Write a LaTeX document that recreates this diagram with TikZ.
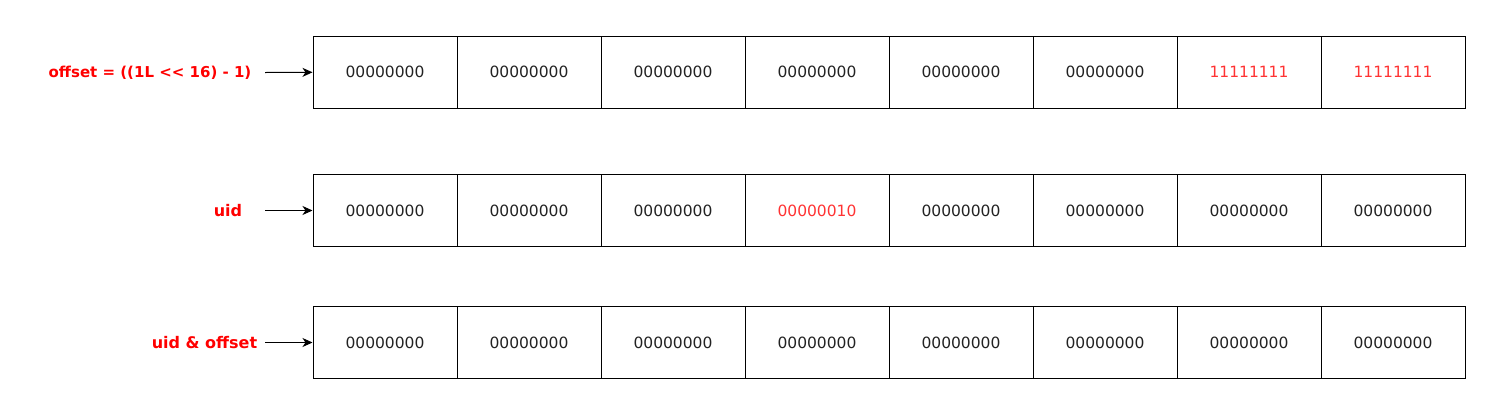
\documentclass[tikz,border=0pt]{standalone}
\usepackage{fontspec}
\setmainfont{DejaVu Sans}
\usetikzlibrary{arrows.meta}
\definecolor{celltxt}{HTML}{222222}
\definecolor{redtxt}{HTML}{FF3333}
\definecolor{lblred}{HTML}{FF0000}
\begin{document}
\begin{tikzpicture}[x=1bp,y=-1bp,
  cell/.style={draw=black,line width=1bp,minimum width=144bp,minimum height=72bp,inner sep=0pt,
    text=celltxt,font=\fontsize{15.5bp}{18bp}\selectfont},
  hot/.style={text=redtxt},
  lbl/.style={text=lblred,font=\fontsize{16bp}{19bp}\selectfont\bfseries,inner sep=0pt},
  arr/.style={line width=1bp,-{Stealth[length=10bp,width=9bp,inset=3bp]}}]
\useasboundingbox (0,0) rectangle (1502,417);
% row 1
\foreach \i/\t/\s in {0/00000000/,1/00000000/,2/00000000/,3/00000000/,4/00000000/,5/00000000/,6/11111111/hot,7/11111111/hot}{
  \node[cell,\s] (a\i) at ({385+144*\i},72.3) {\t};
}
% row 2
\foreach \i/\t/\s in {0/00000000/,1/00000000/,2/00000000/,3/00000010/hot,4/00000000/,5/00000000/,6/00000000/,7/00000000/}{
  \node[cell,\s] (b\i) at ({385+144*\i},210.5) {\t};
}
% row 3
\foreach \i/\t in {0/00000000,1/00000000,2/00000000,3/00000000,4/00000000,5/00000000,6/00000000,7/00000000}{
  \node[cell] (c\i) at ({385+144*\i},342.5) {\t};
}
\node[lbl,font=\fontsize{15bp}{18bp}\selectfont\bfseries] (la) at (150,72.5) {offset = ((1L <\kern0pt< 16) - 1)};
\node[lbl] (lb) at (228,210.5) {uid};
\node[lbl] (lc) at (204.5,342.5) {uid \& offset};
\coordinate (sa) at (265,72.5);
\coordinate (sb) at (265,210.5);
\coordinate (sc) at (265,342.5);
\draw[arr] (sa) -- (a0.west);
\draw[arr] (sb) -- (b0.west);
\draw[arr] (sc) -- (c0.west);
\end{tikzpicture}
\end{document}
